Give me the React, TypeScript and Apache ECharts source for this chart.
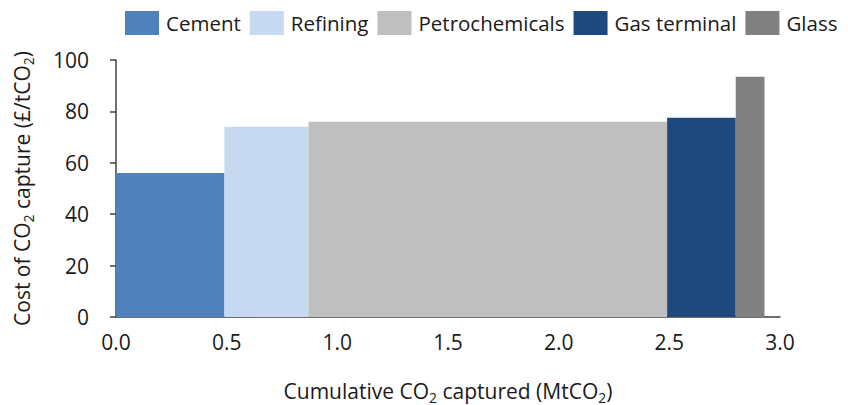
import React, { useEffect, useRef } from "react";
import * as echarts from "echarts";

const categories = ["Cement", "Refining", "Petrochemicals", "Gas terminal", "Glass"];
const capturedMt = [0.49, 0.38, 1.62, 0.31, 0.13];
const costPerTonne = [56, 74, 76, 77.5, 93.5];
const colors = ["#4F81BD", "#C6D9F1", "#BFBFBF", "#1F497D", "#808080"];
const xTicks = [0, 0.5, 1, 1.5, 2, 2.5, 3];
const yTicks = [0, 20, 40, 60, 80, 100];

const FONT = "Open Sans";

export default function App() {
  const ref = useRef<HTMLDivElement>(null);
  useEffect(() => {
    document.body.style.margin = "0";
    if (!ref.current) return;
    const chart = echarts.init(ref.current, null, { renderer: "svg" });
    let start = 0;
    const series = categories.map((name, i) => {
      const s = start;
      const e = start + capturedMt[i];
      start = e;
      return {
        name,
        type: "custom",
        itemStyle: { color: colors[i] },
        encode: { x: [0, 1], y: 2 },
        data: [[s, e, costPerTonne[i]]],
        renderItem: (params: any, api: any) => {
          const p0 = api.coord([api.value(0), api.value(2)]);
          const p1 = api.coord([api.value(1), 0]);
          return {
            type: "rect",
            shape: { x: p0[0], y: p0[1], width: p1[0] - p0[0], height: p1[1] - p0[1] },
            style: { fill: colors[i] },
          };
        },
      };
    });
    const sub = { fontSize: 14, fontFamily: FONT, color: "#1a1a1a", verticalAlign: "bottom", padding: [0, 0, -3, 0] };
    chart.setOption({
      animation: false,
      textStyle: { fontFamily: FONT },
      legend: {
        left: 120,
        top: 6,
        width: 728,
        padding: [5, 0, 5, 5],
        itemWidth: 34,
        itemHeight: 24,
        itemGap: 9,
        icon: "rect",
        textStyle: { fontSize: 20.5, fontFamily: FONT, color: "#1a1a1a", padding: [0, 0, 0, 2] },
        data: categories,
      },
      grid: { left: 116, right: 68, top: 60, bottom: 88, containLabel: false, outerBoundsMode: "none" },
      xAxis: {
        type: "value",
        min: xTicks[0],
        max: xTicks[xTicks.length - 1],
        interval: 0.5,
        splitLine: { show: false },
        axisLine: { show: true, lineStyle: { color: "#404040", width: 1.5 } },
        axisTick: { show: false },
        axisLabel: {
          fontSize: 21,
          fontFamily: FONT,
          color: "#1a1a1a",
          margin: 14,
          formatter: (v: number) => v.toFixed(1),
        },
        name: "Cumulative CO{sub|2} captured (MtCO{sub|2})",
        nameLocation: "middle",
        nameGap: 63,
        nameTextStyle: {
          fontSize: 21,
          fontFamily: FONT,
          color: "#1a1a1a",
          rich: { sub },
        },
      },
      yAxis: {
        type: "value",
        min: yTicks[0],
        max: yTicks[yTicks.length - 1],
        interval: 20,
        splitLine: { show: false },
        axisLine: { show: true, lineStyle: { color: "#404040", width: 1.5 } },
        axisTick: { show: true, length: 6, inside: false, lineStyle: { color: "#404040", width: 1.5 } },
        axisLabel: { fontSize: 21, fontFamily: FONT, color: "#1a1a1a", margin: 27 },
        name: "Cost of CO{sub|2} capture (£/tCO{sub|2})",
        nameLocation: "middle",
        nameRotate: 90,
        nameGap: 84,
        nameTextStyle: {
          fontSize: 21,
          fontFamily: FONT,
          color: "#1a1a1a",
          rich: { sub },
        },
      },
      series,
    });
    return () => chart.dispose();
  }, []);
  return <div ref={ref} style={{ width: 848, height: 405, overflow: "hidden" }} />;
}
